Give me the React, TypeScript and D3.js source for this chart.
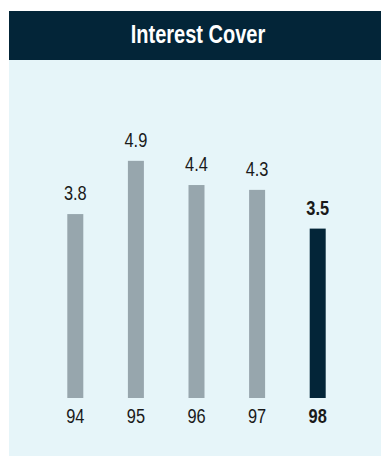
import React from "react";
import * as d3 from "d3";

const categories = ["94", "95", "96", "97", "98"];
const values = [3.8, 4.9, 4.4, 4.3, 3.5];
const labels = ["3.8", "4.9", "4.4", "4.3", "3.5"];
const title = "Interest Cover";

const W = 381;
const H = 456;
const FONT = "'Liberation Sans Narrow', 'Arial Narrow', 'Liberation Sans', Arial, sans-serif";
const SX = 0.78;

export default function App() {
  const x = d3
    .scaleBand<string>()
    .domain(categories)
    .range([45, 348])
    .paddingInner(0.736)
    .paddingOuter(0.368);
  const y = d3.scaleLinear().domain([0, 5]).range([398, 156]);
  const last = categories.length - 1;

  return (
    <svg
      width={W}
      height={H}
      style={{ position: "absolute", left: 0, top: 0, display: "block" }}
    >
      <rect x={9} y={11} width={W - 9} height={49} fill="#032538" />
      <rect x={9} y={60} width={W - 9} height={H - 60} fill="#e6f5f9" />
      <text
        transform={`translate(198,43) scale(0.8,1)`}
        textAnchor="middle"
        fill="#ffffff"
        fontFamily={FONT}
        fontWeight="bold"
        fontSize={25}
      >
        {title}
      </text>
      {categories.map((c, i) => {
        const isLast = i === last;
        const bx = x(c)!;
        const bw = x.bandwidth();
        const cx = bx + bw / 2;
        return (
          <g key={c}>
            <rect
              x={bx}
              y={y(values[i])}
              width={bw}
              height={y(0) - y(values[i])}
              fill={isLast ? "#032538" : "#97a6ad"}
            />
            <text
              transform={`translate(${cx},${y(values[i]) - 14}) scale(${SX},1)`}
              textAnchor="middle"
              fill="#1a1a1a"
              fontFamily={FONT}
              fontWeight={isLast ? "bold" : "normal"}
              fontSize={21}
            >
              {labels[i]}
            </text>
            <text
              transform={`translate(${cx},423) scale(${SX},1)`}
              textAnchor="middle"
              fill="#1a1a1a"
              fontFamily={FONT}
              fontWeight={isLast ? "bold" : "normal"}
              fontSize={21}
            >
              {c}
            </text>
          </g>
        );
      })}
    </svg>
  );
}
